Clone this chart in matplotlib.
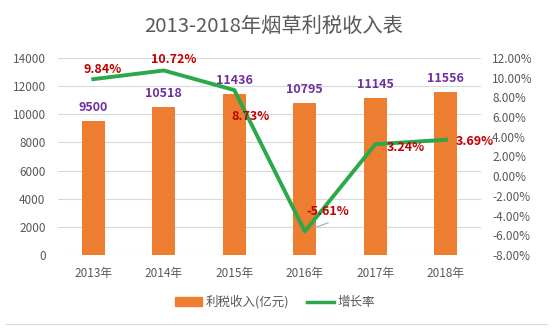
import matplotlib
matplotlib.use('Agg')
import matplotlib.pyplot as plt
from matplotlib.ticker import FuncFormatter
from matplotlib.lines import Line2D
from matplotlib.patches import Patch

plt.rcParams['font.family'] = ['Noto Sans CJK SC', 'DejaVu Sans']

# 数据
years = ['2013年', '2014年', '2015年', '2016年', '2017年', '2018年']
revenue = [9500, 10518, 11436, 10795, 11145, 11556]
growth = [9.84, 10.72, 8.73, -5.61, 3.24, 3.69]

grey = '#595959'
orange = '#ED7D31'
green = '#2BA84A'
purple = '#7030A0'
red = '#C00000'

fig = plt.figure(figsize=(5.53, 3.28), dpi=100)
ax = fig.add_axes([0.105, 0.2226, 0.765, 0.601])
x = list(range(len(years)))

ax.bar(x, revenue, width=0.33, color=orange, zorder=2)
ax.set_ylim(0, 14000)
ax.set_yticks(range(0, 14001, 2000))
ax.set_xlim(-0.5, 5.5)
ax.set_xticks(x)
ax.set_xticklabels(years)
ax.grid(axis='y', color='#D9D9D9', linewidth=0.8, zorder=0)
for s in ax.spines.values():
    s.set_visible(False)
ax.tick_params(length=0, colors=grey, labelsize=8.5)
ax.tick_params(axis='y', pad=9)
ax.tick_params(axis='x', pad=9)

# 柱子上的数字
for xi, v in zip(x, revenue):
    ax.text(xi, v + 500, str(v), ha='center', va='bottom', color=purple,
            fontsize=9, fontweight='bold')

ax2 = ax.twinx()
ax2.plot(x, growth, color=green, linewidth=2.8, zorder=3)
ax2.set_ylim(-8, 12)
ax2.set_yticks(range(-8, 13, 2))
ax2.yaxis.set_major_formatter(FuncFormatter(lambda v, p: '%.2f%%' % v))
for s in ax2.spines.values():
    s.set_visible(False)
ax2.tick_params(length=0, colors=grey, labelsize=8.5, pad=8)

# 增长率标签 (dx, dy)
offsets = [(0.13, 1.0), (0.14, 1.07), (0.23, -2.65),
           (0.33, 2.0), (0.43, -0.3), (0.41, -0.15)]
for xi, g, (dx, dy) in zip(x, growth, offsets):
    ax2.text(xi + dx, g + dy, '%.2f%%' % g, ha='center', va='center', color=red,
             fontsize=9, fontweight='bold', zorder=4)
ax2.plot([3.14, 3.33], [growth[3] + 0.37, growth[3] + 0.88], color='#A6A6A6', linewidth=0.8)

fig.text(0.494, 0.918, '2013-2018年烟草利税收入表', ha='center', va='center',
         fontsize=14.6, color=grey)

handles = [Patch(color=orange), Line2D([], [], color=green, linewidth=2.5)]
fig.legend(handles, ['利税收入(亿元)', '增长率'], loc='center', bbox_to_anchor=(0.497, 0.079),
           ncol=2, frameon=False, fontsize=9, labelcolor=grey,
           handlelength=2.2, handleheight=0.7, handletextpad=0.25, columnspacing=1.4)

fig.add_artist(Line2D([0.01, 0.99], [0.012, 0.012], color='#D9D9D9', linewidth=0.8))

fig.savefig('out.png', dpi=100)
